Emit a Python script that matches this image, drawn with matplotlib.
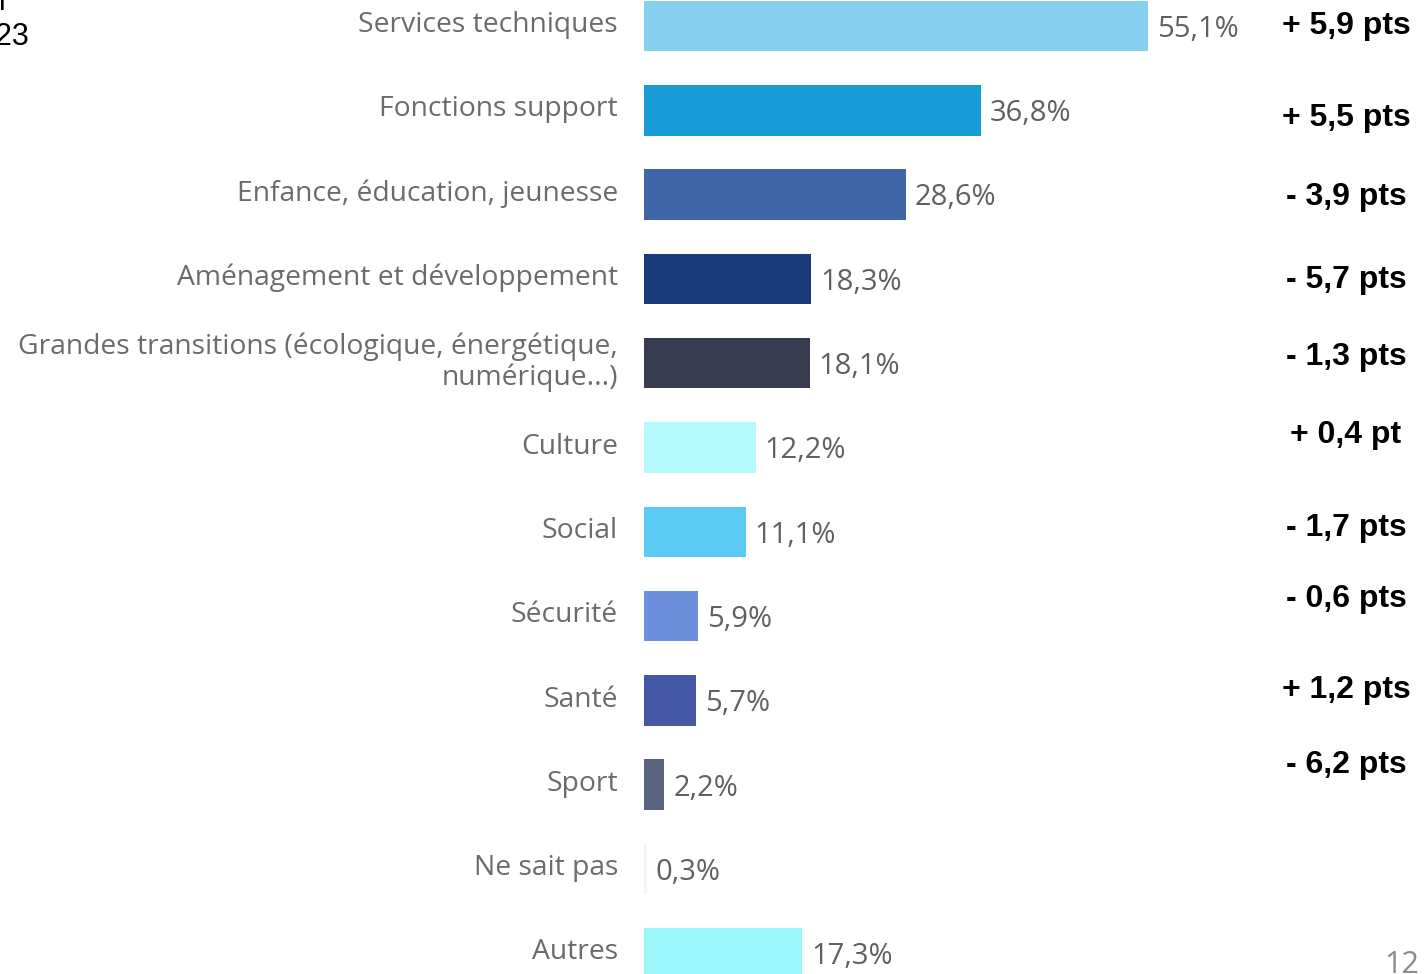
import matplotlib
matplotlib.use("Agg")
import matplotlib.pyplot as plt

# Répartition par domaine
domaines = [
    "Services techniques",
    "Fonctions support",
    "Enfance, éducation, jeunesse",
    "Aménagement et développement",
    "Grandes transitions (écologique, énergétique,\nnumérique...)",
    "Culture",
    "Social",
    "Sécurité",
    "Santé",
    "Sport",
    "Ne sait pas",
    "Autres",
]
valeurs = [55.1, 36.8, 28.6, 18.3, 18.1, 12.2, 11.1, 5.9, 5.7, 2.2, 0.3, 17.3]
evolutions = ["+ 5,9 pts", "+ 5,5 pts", "- 3,9 pts", "- 5,7 pts", "- 1,3 pts",
              "+ 0,4 pt", "- 1,7 pts", "- 0,6 pts", "+ 1,2 pts", "- 6,2 pts"]

couleurs = ["#88D0F0", "#189CD6", "#4064A8", "#1B3A7A", "#363B50", "#B4FAFE",
            "#5BCBF5", "#6E8FDB", "#4558A8", "#5A6480", "#F2F4F6", "#9DF6FA"]

# décalage vertical des écarts par rapport aux barres
decalages = [0.0, 0.09, 0.03, 0.01, -0.07, -0.15, -0.05, -0.2, -0.12, -0.23]

fig = plt.figure(figsize=(14.26, 9.74), dpi=100)
ax = fig.add_axes([0, 0, 1, 1])

px = 9.15          # pixels par point de pourcentage
pas = 84.3         # pixels entre deux barres
ax.set_xlim(-644 / px, (1426 - 644) / px)
ax.set_ylim((974 - 26) / pas, -26 / pas)
ax.axis("off")

y = list(range(len(domaines)))
ax.barh(y, valeurs, height=0.6, color=couleurs)

police = "Open Sans"
for i, (nom, v) in enumerate(zip(domaines, valeurs)):
    ax.text(-26 / px, i - 0.01, nom, ha="right", va="center", fontsize=20.3,
            color="#6b6b6b", family=police, linespacing=1.08)
    ax.text(v + 9 / px, i + 0.04, f"{v:.1f}%".replace(".", ","), ha="left",
            va="center", fontsize=21, color="#606060", family=police)

for i, (txt, d) in enumerate(zip(evolutions, decalages)):
    ax.text(1346 / px - 644 / px, i + d, txt, ha="center", va="center",
            fontsize=23, fontweight="bold", color="black",
            family="Liberation Sans")

# restes de texte en bord de page
fig.text(29 / 1426, 1 - 37 / 974, "2023", ha="right", va="center",
         fontsize=22, family="Liberation Sans", color="black")
fig.text(6 / 1426, 1 - 10 / 974, "l", ha="right", va="baseline",
         fontsize=22, family="Liberation Sans", color="black")
fig.text(1384 / 1426, 1 - 950 / 974, "12", ha="left", va="top",
         fontsize=22, family=police, color="#8a8a8a")

fig.savefig("out.png", dpi=100)
